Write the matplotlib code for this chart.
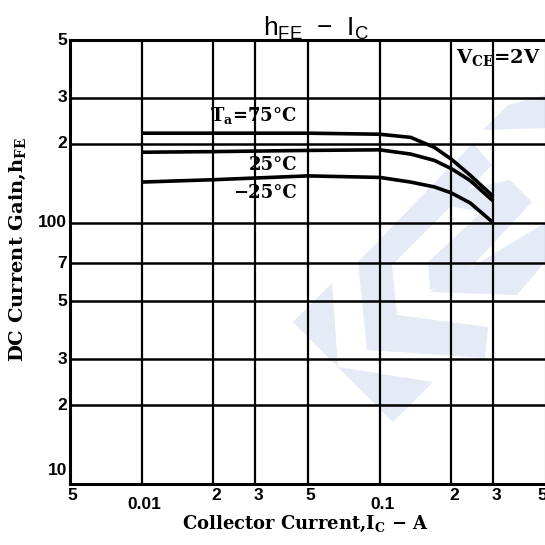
import matplotlib
matplotlib.use("Agg")
import matplotlib.pyplot as plt
import matplotlib.transforms as mtransforms
from matplotlib.patches import Polygon

# ---------------- data ----------------
ic = [0.01, 0.02, 0.05, 0.1, 0.135, 0.17, 0.2, 0.24, 0.3]
hfe_75 = [220, 220, 220, 218, 212, 194, 175, 152, 126]
hfe_25 = [186, 187, 189, 190, 183, 173, 161, 145, 121]
hfe_m25 = [143, 146, 151, 149, 143, 137, 130, 119, 100]

x_tick_vals = [0.005, 0.01, 0.02, 0.03, 0.05, 0.1, 0.2, 0.3, 0.5]
x_tick_labels = ["5", "0.01", "2", "3", "5", "0.1", "2", "3", "5"]
y_tick_vals = [10, 20, 30, 50, 70, 100, 200, 300, 500]
y_tick_labels = ["10", "2", "3", "5", "7", "100", "2", "3", "5"]
x_grid = [0.01, 0.02, 0.03, 0.05, 0.1, 0.2, 0.3]
y_grid = [20, 30, 50, 70, 100, 200, 300]

W = H = 545
fig = plt.figure(figsize=(5.45, 5.45), dpi=100)
fig.patch.set_facecolor("white")

# light watermark (decorative) in a background axes, pixel coords
bg = fig.add_axes([0, 0, 1, 1], zorder=0)
bg.set_xlim(0, W)
bg.set_ylim(H, 0)
bg.axis("off")
wm = [
    [(293, 322), (332, 283), (338, 367), (433, 382), (393, 422)],
    [(358, 262), (473, 143), (492, 165), (392, 265), (397, 315), (488, 327), (485, 358), (367, 350)],
    [(417, 200), (510, 180), (532, 202), (457, 282), (430, 290), (428, 262), (482, 212)],
    [(430, 292), (517, 295), (545, 262), (545, 223)],
    [(483, 130), (508, 105), (545, 95), (545, 128)],
]
for poly in wm:
    bg.add_patch(Polygon(poly, closed=True, facecolor="#e5ebf6", edgecolor="none"))

left, right, top, bottom = 70, 546, 40, 484
ax = fig.add_axes([left / W, 1 - bottom / H, (right - left) / W, (bottom - top) / H], zorder=1)
ax.patch.set_alpha(0)
ax.set_xscale("log")
ax.set_yscale("log")
ax.set_xlim(0.005, 0.5)
ax.set_ylim(10, 500)
ax.set_xticks([])
ax.set_yticks([])
ax.minorticks_off()
for s in ax.spines.values():
    s.set_linewidth(2.2)
    s.set_color("black")

for xv in x_grid:
    ax.axvline(xv, color="black", lw=1.6, zorder=1)
for yv in y_grid:
    ax.axhline(yv, color="black", lw=1.8, zorder=1)

for ys in (hfe_75, hfe_25, hfe_m25):
    ax.plot(ic, ys, color="black", lw=2.6, solid_capstyle="butt", zorder=3)

tickfont = dict(family="Liberation Sans", weight="bold", fontsize=12.5, color="black")
# x tick labels
bx = mtransforms.blended_transform_factory(ax.transData, ax.transAxes)
for v, lab in zip(x_tick_vals, x_tick_labels):
    decade = lab in ("0.01", "0.1")
    off = -15 if decade else -8
    ax.annotate(lab, xy=(v, 0), xycoords=bx, xytext=(2 if v < 0.4 else -3, off),
                textcoords="offset points", ha="center", va="center",
                annotation_clip=False, **tickfont)
# y tick labels
by = mtransforms.blended_transform_factory(ax.transAxes, ax.transData)
for v, lab in zip(y_tick_vals, y_tick_labels):
    off = 10 if v == 10 else 0
    ax.annotate(lab, xy=(0, v), xycoords=by, xytext=(-2, off),
                textcoords="offset points", ha="right", va="center",
                annotation_clip=False, **tickfont)

serif = dict(family="DejaVu Serif", weight="bold", color="black")
plt.rcParams["mathtext.default"] = "regular"

fig.text(316 / W, 1 - 28 / H, r"h$_{\mathregular{FE}}$  $-$  I$_{\mathregular{C}}$",
         ha="center", va="center", family="Liberation Sans", fontsize=19, zorder=3)
fig.text(305 / W, 1 - 524 / H, r"Collector Current,I$_{\mathregular{C}}$ $-$ A",
         ha="center", va="center", fontsize=13, zorder=3, **serif)
fig.text(18 / W, 1 - 249 / H, r"DC Current Gain,h$_{\mathregular{FE}}$",
         ha="center", va="center", rotation=90, fontsize=14, zorder=3, **serif)

fig.text(297 / W, 1 - 115 / H, r"T$_{\mathregular{a}}$=75°C", ha="right", va="center",
         fontsize=13, zorder=3, **serif)
fig.text(297 / W, 1 - 165 / H, "25°C", ha="right", va="center", fontsize=13, zorder=3, **serif)
fig.text(297 / W, 1 - 193 / H, "−25°C", ha="right", va="center", fontsize=13, zorder=3, **serif)
fig.text(540 / W, 1 - 58 / H, r"V$_{\mathregular{CE}}$=2V", ha="right", va="center",
         fontsize=14, zorder=3, **serif)

fig.savefig("out.png", dpi=100, facecolor="white")
